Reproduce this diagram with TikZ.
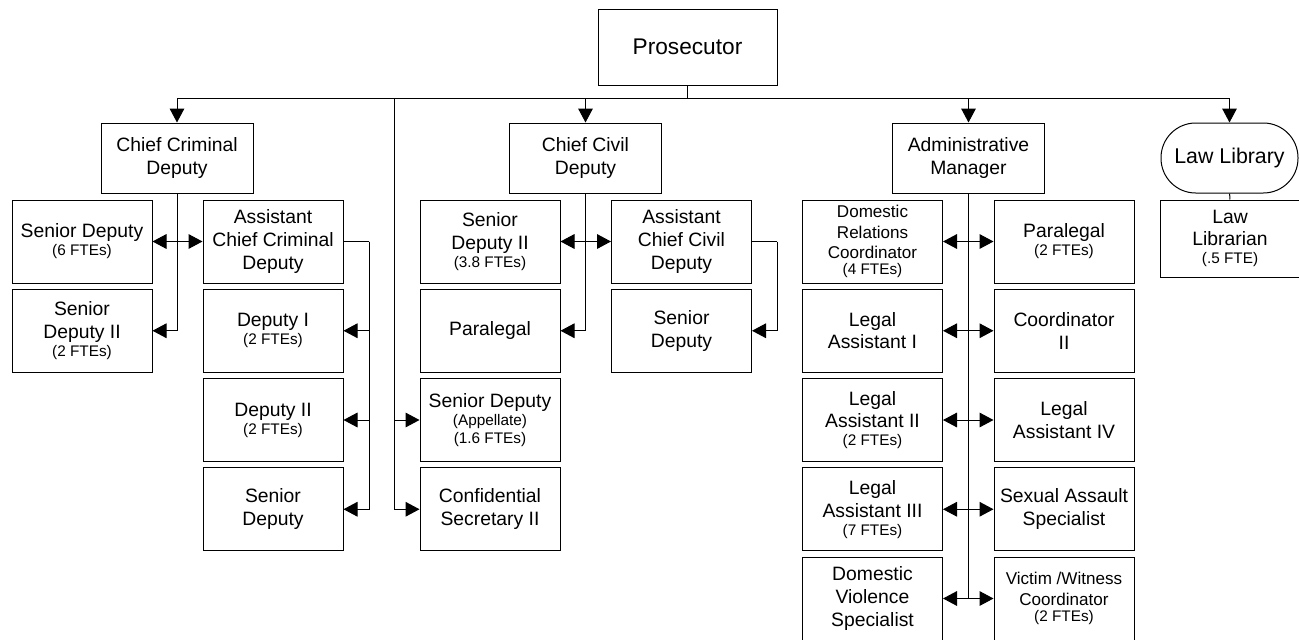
\documentclass[tikz,border=0pt]{standalone}
\usepackage{fontspec}
\setmainfont{Liberation Sans}
\usepackage{tikz}
\usetikzlibrary{arrows.meta}

\newcommand{\fsmain}{\fontsize{14.5}{17}\selectfont}
\newcommand{\fsmid}{\fontsize{12.8}{15.5}\selectfont}
\newcommand{\fsfte}{\fontsize{11.5}{13}\selectfont}
\newcommand{\fte}[1]{\\[-3.5pt]{\fsfte #1}}

\begin{document}
\begin{tikzpicture}[x=0.75pt, y=-0.75pt, line width=0.75pt, font=\fsmain,
    >={Triangle[length=10.5pt, width=11pt]},
    box/.style={draw, align=center, inner sep=1pt, minimum width=105pt, minimum height=62.25pt},
    head/.style={box, minimum width=114pt, minimum height=52.5pt},
    unit/.style={draw, align=center, inner sep=1pt, rounded corners=26pt,
                 minimum width=102.75pt, minimum height=52.5pt, font=\fontsize{16}{19}\selectfont}]
  \useasboundingbox (0,0) rectangle (1299,639);

  % top
  \node[box, minimum width=134.25pt, minimum height=57pt, font=\fontsize{17}{20}\selectfont]
       (pros) at (687.5,47) {Prosecutor};
  \node[head] (ccd) at (177,158) {Chief Criminal\\Deputy};
  \node[head] (civ) at (585.5,158) {Chief Civil\\Deputy};
  \node[head] (adm) at (968.5,158) {Administrative\\Manager};
  \node[unit] (lib) at (1229.5,158) {Law Library};
  \node[box, minimum height=57.75pt] (lawlib) at (1230,238.5) {Law\\Librarian\fte{(.5 FTE)}};

  % criminal side
  \node[box] (A1) at (82,241.5)  {Senior Deputy\fte{(6 FTEs)}};
  \node[box] (A2) at (82,330.75) {Senior\\Deputy II\fte{(2 FTEs)}};
  \node[box] (B1) at (273,241.5)  {Assistant\\Chief Criminal\\Deputy};
  \node[box] (B2) at (273,330.75) {Deputy I\fte{(2 FTEs)}};
  \node[box] (B3) at (273,420)    {Deputy II\fte{(2 FTEs)}};
  \node[box] (B4) at (273,509.25) {Senior\\Deputy};

  % civil side
  \node[box] (C1) at (490,241.5)  {Senior\\Deputy II\fte{(3.8 FTEs)}};
  \node[box] (C2) at (490,330.75) {Paralegal};
  \node[box] (C3) at (490,420)    {Senior Deputy\fte{(Appellate)}\fte{(1.6 FTEs)}};
  \node[box] (C4) at (490,509.25) {Confidential\\Secretary II};
  \node[box] (D1) at (681.5,241.5)  {Assistant\\Chief Civil\\Deputy};
  \node[box] (D2) at (681.5,330.75) {Senior\\Deputy};

  % administration
  \node[box, font=\fsmid] (E1) at (872.5,241.5) {Domestic\\Relations\\Coordinator\fte{(4 FTEs)}};
  \node[box] (E2) at (872.5,330.75) {Legal\\Assistant I};
  \node[box] (E3) at (872.5,420)    {Legal\\Assistant II\fte{(2 FTEs)}};
  \node[box] (E4) at (872.5,509.25) {Legal\\Assistant III\fte{(7 FTEs)}};
  \node[box] (E5) at (872.5,598.5)  {Domestic\\Violence\\Specialist};
  \node[box] (F1) at (1064,241.5)  {Paralegal\fte{(2 FTEs)}};
  \node[box] (F2) at (1064,330.75) {Coordinator\\II};
  \node[box] (F3) at (1064,420)    {Legal\\Assistant IV};
  \node[box] (F4) at (1064,509.25) {Sexual Assault\\Specialist};
  \node[box, font=\fsmid] (F5) at (1064,598.5) {Victim /Witness\\Coordinator\fte{(2 FTEs)}};

  % bus
  \coordinate (bus) at (687.5,98);
  \coordinate (appel) at (394,98);
  \draw (pros) -- (bus);
  \foreach \n in {ccd,civ,adm}
    \draw[->] (bus) -| (\n);
  \draw[->] (bus) -| (lib);
  \draw[->] (appel) |- (C3);
  \draw[->] (appel) |- (C4);

  % criminal links
  \draw[->] (ccd) |- (A2);
  \draw[<->] (A1) -- (B1);
  \coordinate (acc) at (369,241.5);
  \draw (B1) -- (acc);
  \foreach \n in {B2,B3,B4}
    \draw[->] (acc) |- (\n);

  % civil links
  \draw[->] (civ) |- (C2);
  \draw[<->] (C1) -- (D1);
  \coordinate (acv) at (777,241.5);
  \draw (D1) -- (acv);
  \draw[->] (acv) |- (D2);

  % admin links
  \draw (adm) -- (adm |- E5);
  \foreach \r in {1,...,5}
    \draw[<->] (E\r) -- (F\r);
  \draw (lib) -- (lawlib);
\end{tikzpicture}
\end{document}
